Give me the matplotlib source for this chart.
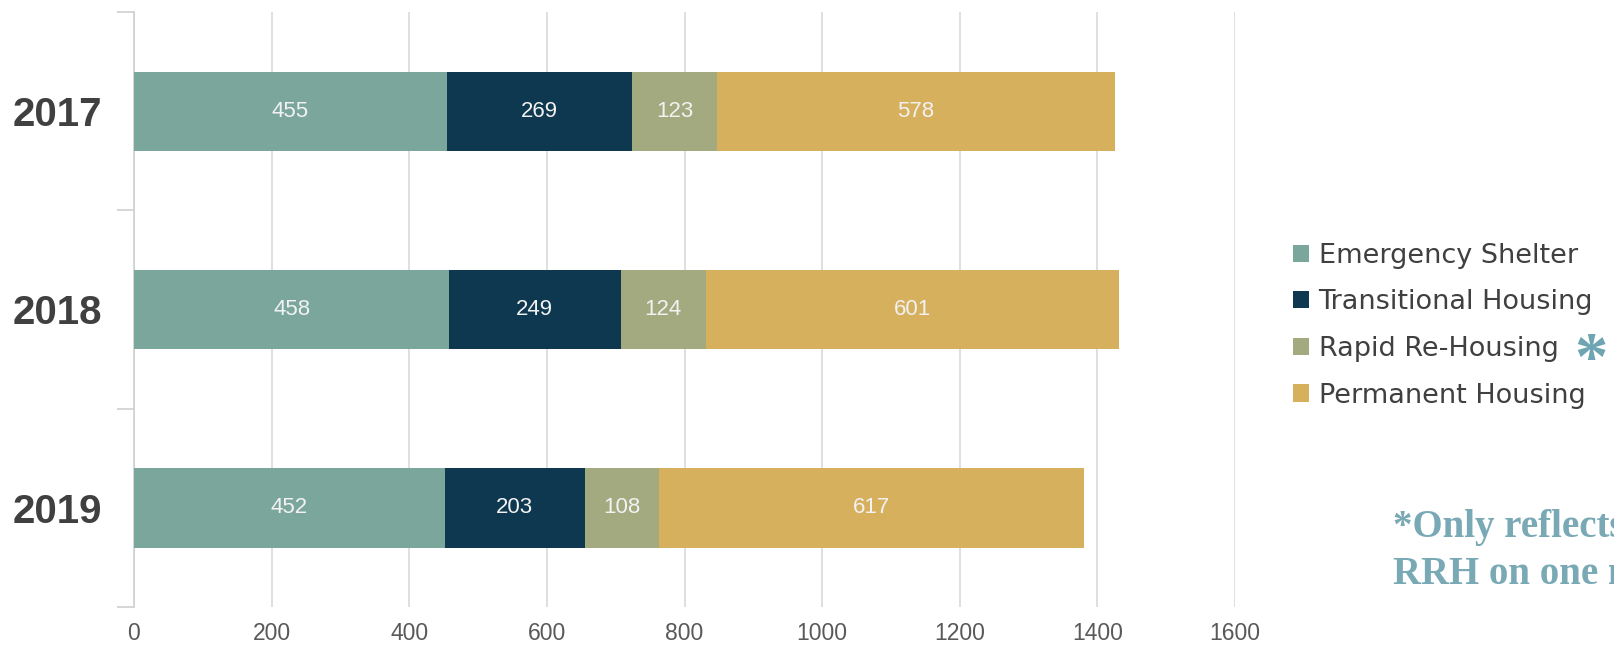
import matplotlib
matplotlib.use("Agg")
import matplotlib.pyplot as plt
import numpy as np

years = ["2017", "2018", "2019"]
series_names = ["Emergency Shelter", "Transitional Housing", "Rapid Re-Housing", "Permanent Housing"]
emergency = [455, 458, 452]
transitional = [269, 249, 203]
rapid = [123, 124, 108]
permanent = [578, 601, 617]
x_ticks = [0, 200, 400, 600, 800, 1000, 1200, 1400, 1600]
colors = ["#7ba69b", "#0d3850", "#a3aa80", "#d6b05d"]
footnote = "*Only reflects\nRRH on one m"

plt.rcParams['font.family'] = ['Liberation Sans', 'DejaVu Sans']

W, H = 1614, 646
fig = plt.figure(figsize=(W / 100, H / 100), dpi=100)
ax = fig.add_axes([134 / W, 1 - 607 / H, (1235 - 134) / W, (607 - 12) / H])

series = [emergency, transitional, rapid, permanent]
y = np.arange(len(years))
left = np.zeros(len(years))
for name, vals, c in zip(series_names, series, colors):
    vals = np.array(vals, dtype=float)
    ax.barh(y, vals, left=left, height=0.4, color=c, label=name, zorder=3)
    for yi, l, v in zip(y, left, vals):
        ax.text(l + v / 2, yi, f"{int(v)}", ha="center", va="center",
                color="#f2f2f2", fontsize=16, zorder=4)
    left += vals

ax.set_xlim(0, 1600)
ax.set_ylim(2.5, -0.5)
ax.set_xticks(x_ticks)
ax.set_xticklabels([str(t) for t in x_ticks], fontsize=16.5, color="#595959")
ax.tick_params(axis="x", length=0, pad=11)
ax.set_yticks([-0.5, 0.5, 1.5, 2.5])
ax.set_yticklabels([])
ax.set_yticks(y, minor=True)
ax.set_yticklabels(years, minor=True, fontsize=29, fontweight="bold", color="#404040")
ax.tick_params(axis="y", which="major", length=12, color="#d0d0d0", width=1.2)
ax.tick_params(axis="y", which="minor", length=0, pad=23)
ax.grid(axis="x", color="#d9d9d9", linewidth=1.2, zorder=0)
for s in ["top", "right", "bottom"]:
    ax.spines[s].set_visible(False)
ax.spines["left"].set_color("#d0d0d0")
ax.spines["left"].set_linewidth(1.2)

leg = fig.legend(loc="upper left", bbox_to_anchor=(1282 / W, 1 - 232 / H),
                 frameon=False, handlelength=0.6, handleheight=0.6,
                 handletextpad=0.35, labelspacing=0.76, borderaxespad=0,
                 prop={"family": "DejaVu Sans", "size": 19.5})
for t in leg.get_texts():
    t.set_color("#404040")

fig.text(1591 / W, 1 - 361 / H, "*", ha="center", va="center", color="#6fa5b2",
         fontsize=48, fontweight="bold", family=["Liberation Serif", "DejaVu Serif"])

fig.text(1393 / W, 1 - 551 / H, footnote, ha="left", va="center", color="#79a9b5",
         fontsize=28, fontweight="bold", family=["Liberation Serif", "DejaVu Serif"],
         linespacing=1.35)

fig.savefig("out.png", dpi=100)
